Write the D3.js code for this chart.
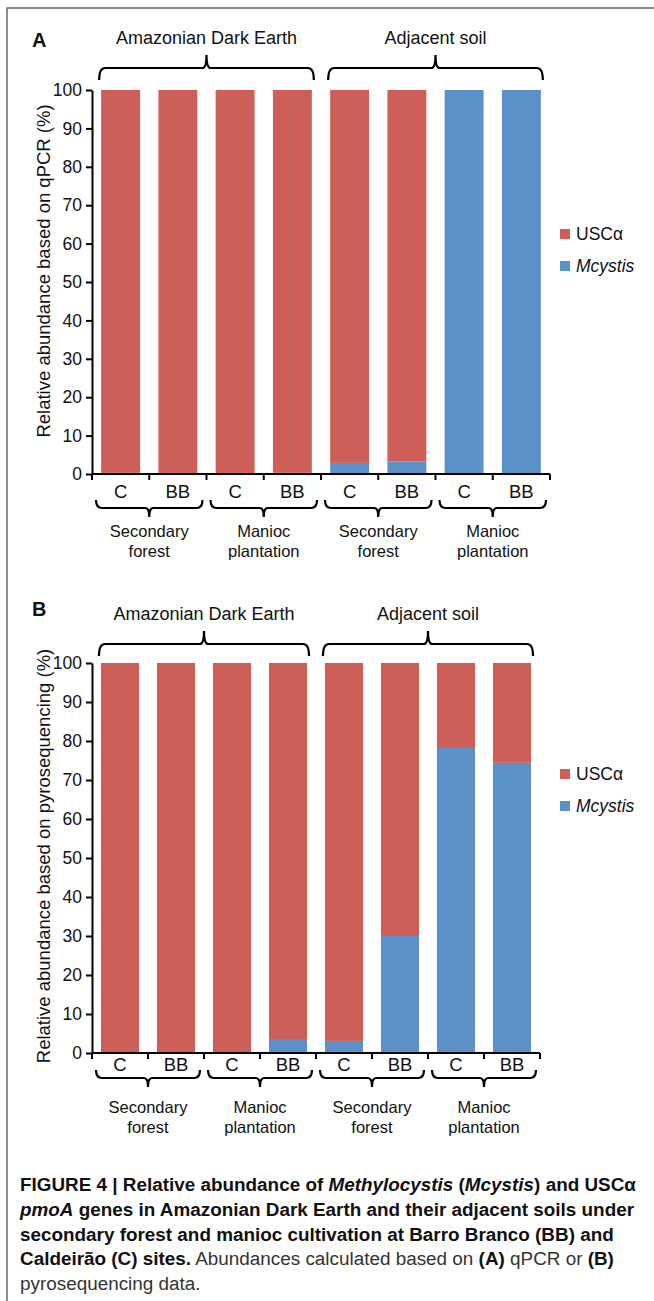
<!DOCTYPE html>
<html>
<head>
<meta charset="utf-8">
<script src="https://cdn.jsdelivr.net/npm/d3@7"></script>
<style>
  body { margin: 0; background: #fff; }
  svg text { font-family: "Liberation Sans", Arial, sans-serif; fill: #111; }
</style>
</head>
<body>
<script>
// ---- data ----
const soils = ["Amazonian Dark Earth", "Adjacent soil"];
const landUses = ["Secondary forest", "Manioc plantation"];
const sites = ["C", "BB"];
const seriesKeys = ["Mcystis", "USCα"];
const yTicks = [0, 10, 20, 30, 40, 50, 60, 70, 80, 90, 100];

// panel A, qPCR (bar order: ADE SF C, ADE SF BB, ADE MP C, ADE MP BB, Adj SF C, ...)
const qpcrMcystis = [0.3, 0, 0, 0.3, 2.9, 3.3, 100, 100];
const qpcrUsc = [99.7, 100, 100, 99.7, 97.1, 96.7, 0, 0];

// panel B, pyrosequencing
const pyroMcystis = [0, 0, 0, 3.6, 3.1, 30, 78.2, 74.4];
const pyroUsc = [100, 100, 100, 96.4, 96.9, 70, 21.8, 25.6];

const colors = { "USCα": "#cd5f58", "Mcystis": "#5b90c9" };

// build bar ids
let bars = [];
soils.forEach((s) => landUses.forEach((l) => sites.forEach((c) => bars.push({ soil: s, use: l, site: c, id: s + "|" + l + "|" + c }))));

const svg = d3.select("body").append("svg").attr("width", 654).attr("height", 1301);

// frame
svg.append("path").attr("d", "M7,1301 V8 H654").attr("fill", "none").attr("stroke", "#6a6a6a").attr("stroke-width", 1.5);

function bracket(x0, x1, y, yEnd, yTip) {
  let xc = (x0 + x1) / 2;
  return `M${x0},${yEnd} Q${x0},${y} ${x0 + 6},${y} L${xc - 4},${y} Q${xc},${y} ${xc},${yTip} ` +
    `Q${xc},${y} ${xc + 4},${y} L${x1 - 6},${y} Q${x1},${y} ${x1},${yEnd}`;
}

function drawPanel(p) {
  let g = svg.append("g");

  let x = d3.scaleBand().domain(bars.map((d) => d.id)).range([p.left, p.right]).paddingInner(0.32).paddingOuter(0.16);
  let y = d3.scaleLinear().domain([0, 100]).range([p.bottom, p.top]);

  let rows = bars.map((d, i) => ({ id: d.id, Mcystis: p.mcystis[i], "USCα": p.usc[i] }));
  let stacked = d3.stack().keys(seriesKeys)(rows);

  g.selectAll(".layer")
    .data(stacked)
    .enter()
    .append("g")
    .attr("fill", (d) => colors[d.key])
    .selectAll("rect")
    .data((d) => d)
    .enter()
    .append("rect")
    .attr("x", (d) => x(d.data.id))
    .attr("width", x.bandwidth())
    .attr("y", (d) => y(d[1]))
    .attr("height", (d) => y(d[0]) - y(d[1]));

  // y axis
  let yAxis = d3.axisLeft(y).tickValues(yTicks).tickSize(6).tickPadding(4).tickSizeOuter(0);
  let ya = g.append("g").attr("transform", `translate(${p.left},0)`).call(yAxis);
  ya.selectAll("text").style("font-size", "17.5px").attr("fill", "#111");
  ya.selectAll("line, path").attr("stroke", "#000").attr("stroke-width", 2);

  // x axis baseline with ticks at band edges
  let half = (x.step() - x.bandwidth()) / 2;
  let edges = x.domain().map((d) => x(d) - half);
  edges.push(p.right);
  g.append("line").attr("x1", p.left).attr("x2", p.right).attr("y1", y(0)).attr("y2", y(0))
    .attr("stroke", "#000").attr("stroke-width", 2);
  g.selectAll(".xtick").data(edges).enter().append("line")
    .attr("x1", (d) => d).attr("x2", (d) => d).attr("y1", y(0)).attr("y2", y(0) + 6)
    .attr("stroke", "#000").attr("stroke-width", 2);

  g.selectAll(".site").data(bars).enter().append("text")
    .attr("x", (d) => x(d.id) + x.bandwidth() / 2)
    .attr("y", p.siteY)
    .attr("text-anchor", "middle")
    .style("font-size", "18.5px")
    .text((d) => d.site);

  // land use brackets (2 bars each)
  let groups = d3.groups(bars, (d) => d.soil + "|" + d.use).map(([k, v]) => ({
    use: v[0].use,
    x0: x(v[0].id) - half + 4,
    x1: x(v[v.length - 1].id) + x.bandwidth() + half - 4,
  }));
  groups.forEach((gr) => {
    g.append("path").attr("d", bracket(gr.x0, gr.x1, p.lowY, p.lowY - 8, p.lowY + 9))
      .attr("fill", "none").attr("stroke", "#000").attr("stroke-width", 2.2);
    let t = g.append("text").attr("text-anchor", "middle").style("font-size", "16.5px");
    gr.use.split(" ").forEach((w, i) => {
      t.append("tspan").attr("x", (gr.x0 + gr.x1) / 2).attr("y", p.useY + i * 20).text(w);
    });
  });

  // soil brackets (4 bars each)
  d3.groups(bars, (d) => d.soil).forEach(([soil, v]) => {
    let x0 = x(v[0].id) - 2;
    let x1 = x(v[v.length - 1].id) + x.bandwidth() + 2;
    g.append("path").attr("d", bracket(x0, x1, p.topY, p.topY + 12, p.topY - 13))
      .attr("fill", "none").attr("stroke", "#000").attr("stroke-width", 2.2);
    g.append("text").attr("x", (x0 + x1) / 2).attr("y", p.soilY).attr("text-anchor", "middle")
      .style("font-size", "18px").text(soil);
  });

  // panel letter
  g.append("text").attr("x", 32).attr("y", p.letterY).style("font-size", "20px").style("font-weight", "bold").text(p.letter);

  // y label
  g.append("text")
    .attr("transform", `translate(50,${p.labelMid}) rotate(-90)`)
    .attr("text-anchor", "middle")
    .style("font-size", "18.5px")
    .text(p.yLabel);

  // legend
  let leg = g.append("g").attr("transform", `translate(560,${p.legendY})`);
  ["USCα", "Mcystis"].forEach((k, i) => {
    leg.append("rect").attr("x", 0).attr("y", i * 32 - 5).attr("width", 10).attr("height", 10).attr("fill", colors[k]);
    leg.append("text").attr("x", 16).attr("y", i * 32 + 6).style("font-size", "17.5px")
      .style("font-style", k === "Mcystis" ? "italic" : "normal").text(k);
  });
}

drawPanel({
  letter: "A", letterY: 47,
  left: 92, right: 550, top: 90, bottom: 474,
  mcystis: qpcrMcystis, usc: qpcrUsc,
  yLabel: "Relative abundance based on qPCR (%)", labelMid: 271,
  siteY: 498, lowY: 508, useY: 537,
  topY: 68, soilY: 44, legendY: 234,
});

drawPanel({
  letter: "B", letterY: 616,
  left: 92, right: 540, top: 663, bottom: 1053,
  mcystis: pyroMcystis, usc: pyroUsc,
  yLabel: "Relative abundance based on pyrosequencing (%)", labelMid: 856,
  siteY: 1071, lowY: 1078, useY: 1113,
  topY: 644, soilY: 620, legendY: 774,
});

// caption (condensed face simulated by squeezing Liberation Sans horizontally)
const captionLines = [
  [["FIGURE 4 | Relative abundance of ", "b"], ["Methylocystis", "bi"], [" (", "b"], ["Mcystis", "bi"], [") and USCα", "b"]],
  [["pmoA", "bi"], [" genes in Amazonian Dark Earth and their adjacent soils under", "b"]],
  [["secondary forest and manioc cultivation at Barro Branco (BB) and", "b"]],
  [["Caldeirão (C) sites.", "b"], [" Abundances calculated based on ", "n"], ["(A)", "b"], [" qPCR or ", "n"], ["(B)", "b"]],
  [["pyrosequencing data.", "n"]],
];
let cap = svg.append("g").attr("class", "caption");
let capTexts = captionLines.map((line, i) => {
  let t = cap.append("text").attr("x", 0).attr("y", 1191 + i * 24.8).style("font-size", "19px");
  line.forEach(([s, st]) => {
    t.append("tspan")
      .style("font-weight", st.includes("b") ? "bold" : "normal")
      .style("font-style", st.includes("i") ? "italic" : "normal")
      .attr("fill", st === "n" ? "#333" : "#111")
      .text(s);
  });
  return t;
});
let squeeze = 616 / capTexts[0].node().getComputedTextLength();
cap.attr("transform", `translate(20,0) scale(${squeeze},1)`);
</script>
</body>
</html>
